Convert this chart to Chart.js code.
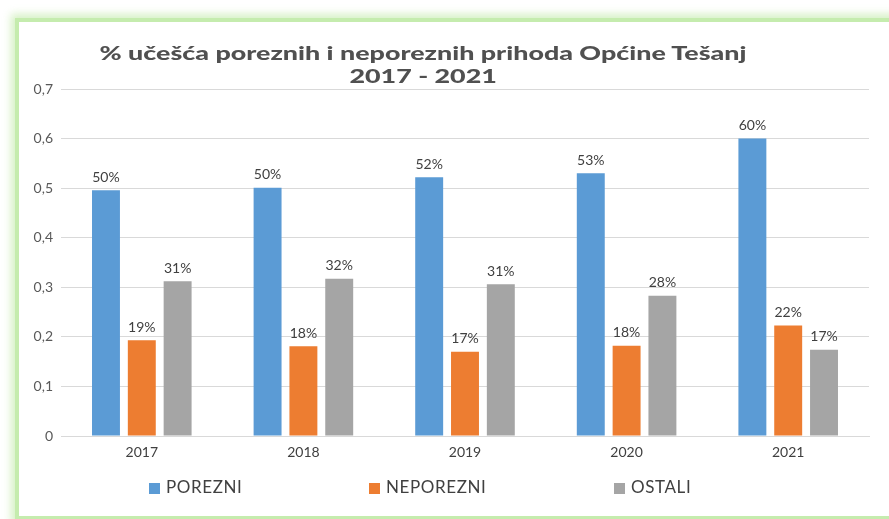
<!DOCTYPE html>
<html>
<head>
<meta charset="utf-8">
<script src="https://cdn.jsdelivr.net/npm/chart.js@4.4.1/dist/chart.umd.min.js"></script>
<style>
  html, body { margin: 0; padding: 0; background: #fff; width: 889px; height: 519px; overflow: hidden; }
  .frame {
    position: absolute; left: 19px; top: 22px; width: 900px; height: 494px; background: #fff;
    box-shadow: 0 0 0 4px #c5ecae, 0 0 8px 8px rgba(200, 236, 178, 0.75);
  }
  #myChart { position: absolute; left: 0; top: 0; }
  .title {
    position: absolute; left: 0; top: 41px; width: 846px; text-align: center;
    font-family: Lato, "Open Sans", sans-serif; font-weight: 900; font-size: 19px;
    line-height: 23px; color: #505050;
  }
  .title span { display: inline-block; white-space: nowrap; }
  .legend { position: absolute; top: 478px; left: 0; font-family: Lato, sans-serif; font-size: 17px; letter-spacing: 0.6px; color: #404040; }
  .legend span.item { position: absolute; white-space: nowrap; line-height: 18px; }
  .legend i { display: inline-block; width: 11px; height: 11px; margin-right: 6px; vertical-align: -1px; }
</style>
</head>
<body>
<div class="frame"></div>
<canvas id="myChart" width="889" height="519"></canvas>
<div class="title"><span id="t1">% učešća poreznih i neporeznih prihoda Općine Tešanj</span><br><span id="t2">2017 - 2021</span></div>
<div class="legend" id="legend"></div>

<script>
    // data
    let years = ['2017', '2018', '2019', '2020', '2021']
    let porezni = [0.496, 0.501, 0.522, 0.530, 0.600]
    let neporezni = [0.193, 0.181, 0.170, 0.182, 0.223]
    let ostali = [0.312, 0.317, 0.306, 0.283, 0.174]
    let seriesNames = ['POREZNI', 'NEPOREZNI', 'OSTALI']
    let colors = ['#5b9bd5', '#ed7d31', '#a5a5a5']

    let myChart = document.getElementById('myChart')

    // the title in the original is drawn wide, stretch it to the same width
    let t1 = document.getElementById('t1')
    let t2 = document.getElementById('t2')
    let k = 647 / t1.getBoundingClientRect().width
    t1.style.transform = 'scaleX(' + k + ')'
    t2.style.transform = 'scaleX(' + k + ')'

    // % labels above the bars
    const barLabels = {
        id: 'barLabels',
        afterDatasetsDraw(chart) {
            const ctx = chart.ctx
            ctx.save()
            ctx.font = '14px Lato, sans-serif'
            ctx.fillStyle = '#404040'
            ctx.textAlign = 'center'
            ctx.textBaseline = 'bottom'
            chart.data.datasets.forEach((ds, i) => {
                chart.getDatasetMeta(i).data.forEach((bar, j) => {
                    ctx.fillText(Math.round(ds.data[j] * 100) + '%', bar.x, bar.y - 6)
                })
            })
            ctx.restore()
        }
    }

    const chart = new Chart(myChart, {
        type: 'bar',
        data: {
            labels: [...years],
            datasets: [
                { label: seriesNames[0], data: [...porezni], backgroundColor: colors[0] },
                { label: seriesNames[1], data: [...neporezni], backgroundColor: colors[1] },
                { label: seriesNames[2], data: [...ostali], backgroundColor: colors[2] }
            ]
        },
        options: {
            responsive: false,
            animation: false,
            categoryPercentage: 0.665,
            barPercentage: 0.78,
            layout: { padding: { top: 89, right: 20, bottom: 59, left: 0 } },
            plugins: {
                legend: { display: false },
                tooltip: { enabled: false }
            },
            scales: {
                x: {
                    afterFit(scale) { scale.height = 24 },
                    grid: { display: false, drawTicks: false },
                    border: { color: '#d9d9d9' },
                    ticks: { color: '#404040', padding: 8, font: { family: 'Lato', size: 14 } }
                },
                y: {
                    min: 0,
                    max: 0.7,
                    afterFit(scale) { scale.width = 61 },
                    border: { display: false },
                    grid: { color: '#d9d9d9', drawTicks: false },
                    ticks: {
                        stepSize: 0.1,
                        padding: 8,
                        color: '#595959',
                        font: { family: 'Lato', size: 14 },
                        callback: (v) => {
                            let r = Math.round(v * 10) / 10
                            return r === 0 ? '0' : r.toFixed(1).replace('.', ',')
                        }
                    }
                }
            }
        },
        plugins: [barLabels]
    })

    // legend, laid out wide like the original
    let legendEl = document.getElementById('legend')
    let legendX = [149, 369, 614]
    seriesNames.forEach((name, i) => {
        let s = document.createElement('span')
        s.className = 'item'
        s.style.left = legendX[i] + 'px'
        s.innerHTML = '<i style="background:' + colors[i] + '"></i>' + name
        legendEl.appendChild(s)
    })
</script>
</body>
</html>
